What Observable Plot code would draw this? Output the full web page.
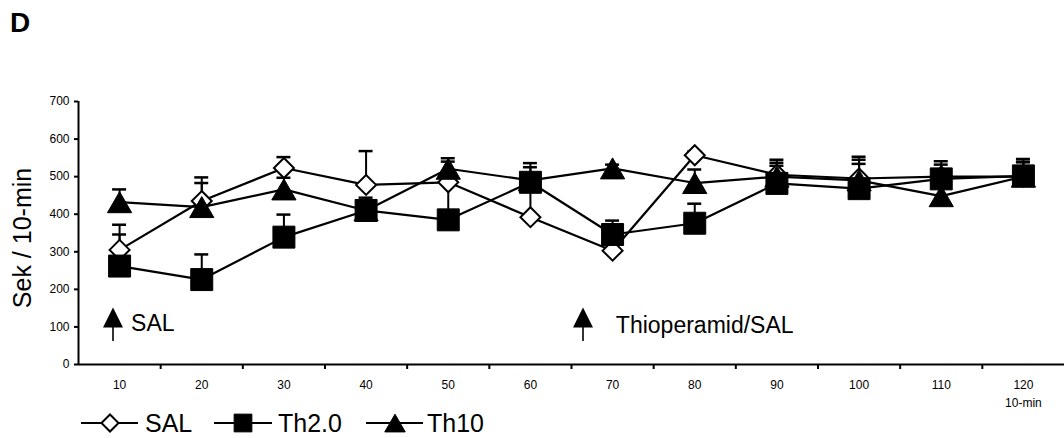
<!DOCTYPE html>
<html>
<head>
<meta charset="utf-8">
<script src="https://cdn.jsdelivr.net/npm/d3@7"></script>
<script src="https://cdn.jsdelivr.net/npm/@observablehq/plot@0.6"></script>
<style>
  body { margin: 0; background: #fff; }
  #wrap { position: relative; width: 1064px; height: 438px; font-family: "Liberation Sans", Arial, sans-serif; }
  #wrap svg { position: absolute; left: 0; top: 0; overflow: visible; }
</style>
</head>
<body>
<div id="wrap"></div>
<script>
// Time bins (10-min blocks)
const minutes = [10, 20, 30, 40, 50, 60, 70, 80, 90, 100, 110, 120];

// Seconds per 10-min block, mean and SEM for each group
const salMean  = [305, 435, 523, 478, 485, 392, 303, 557, 505, 495, 500, 500];
const salSem   = [67, 63, 29, 90, 55, 75, 30, 10, 40, 58, 32, 40];
const th2Mean  = [262, 226, 339, 410, 385, 485, 346, 376, 482, 468, 494, 502];
const th2Sem   = [84, 67, 60, 34, 95, 51, 37, 52, 47, 66, 47, 45];
const th10Mean = [432, 419, 466, 410, 521, 490, 522, 483, 500, 490, 448, 500];
const th10Sem  = [34, 64, 31, 20, 28, 35, 10, 36, 37, 55, 40, 38];

const groupNames = ["SAL", "Th2.0", "Th10"];

// Axis ticks
const yTicks = [0, 100, 200, 300, 400, 500, 600, 700];
const xBoundaries = [15, 25, 35, 45, 55, 65, 75, 85, 95, 105, 115];

// Injection markers
const injectionX = [9.2, 66.4];
const injectionLabelX = [11.4, 70.4];
const injectionLabelY = [108, 104];
const injectionText = ["SAL", "Thioperamid/SAL"];

const series = [
  {name: groupNames[0], mean: salMean, sem: salSem},
  {name: groupNames[1], mean: th2Mean, sem: th2Sem},
  {name: groupNames[2], mean: th10Mean, sem: th10Sem}
];
const rows = series.flatMap(s => s.mean.map((m, i) => ({group: s.name, x: minutes[i], y: m, top: m + s.sem[i]})));
const of = g => rows.filter(d => d.group === g);

// Filled arrowhead, as wide as it is tall
const arrowHead = {
  draw(context, size) {
    const r = Math.sqrt(size / Math.PI);
    context.moveTo(0, -r);
    context.lineTo(r, r);
    context.lineTo(-r, r);
    context.closePath();
  }
};

const injections = injectionX.map((x, i) => ({x, lx: injectionLabelX[i], ly: injectionLabelY[i], text: injectionText[i]}));

const font = '"Liberation Sans", Arial, sans-serif';

const chart = Plot.plot({
  width: 1064,
  height: 410,
  marginLeft: 78,
  marginRight: 0,
  marginTop: 101,
  marginBottom: 46,
  style: {fontFamily: font, color: "black", background: "transparent", overflow: "visible"},
  x: {type: "linear", domain: [5, 125]},
  y: {domain: [0, 700]},
  marks: [
    Plot.axisY({ticks: yTicks, tickSize: 4, tickPadding: 5, fontSize: 12, strokeWidth: 2, label: null}),
    Plot.axisX({ticks: xBoundaries, tickSize: 5, tickFormat: () => "", strokeWidth: 2, label: null}),
    Plot.axisX({ticks: minutes, tickSize: 0, tickPadding: 12, fontSize: 12, lineHeight: 1.5, label: null,
      tickFormat: d => d === 120 ? "120\n10-min" : String(d)}),
    Plot.ruleY([0], {strokeWidth: 2}),
    Plot.ruleX([5], {strokeWidth: 2}),
    Plot.text(["Sek / 10-min"], {text: d => d, frameAnchor: "left", textAnchor: "middle", lineAnchor: "middle",
      dx: -56, dy: 5, rotate: -90, fontSize: 25}),

    // injection arrows
    Plot.ruleX(injections, {x: "x", y1: 61, y2: 100, strokeWidth: 1.6}),
    Plot.dot(injections, {x: "x", y: () => 125, symbol: arrowHead, r: 10, fill: "black", stroke: "none"}),
    Plot.text(injections, {x: "lx", y: "ly", text: "text", textAnchor: "start", fontSize: 23}),

    // group means
    Plot.line(rows, {x: "x", y: "y", z: "group", stroke: "black", strokeWidth: 2.2}),

    // upper SEM bars
    Plot.ruleX(rows, {x: "x", y1: "y", y2: "top", strokeWidth: 2}),
    Plot.ruleY(rows, {y: "top", x1: d => d.x - 0.85, x2: d => d.x + 0.85, strokeWidth: 2.5}),

    // markers
    Plot.dot(of("SAL"), {x: "x", y: "y", symbol: "diamond2", r: 9, fill: "white", stroke: "black", strokeWidth: 2}),
    Plot.dot(of("Th10"), {x: "x", y: "y", symbol: "triangle", r: 9, dy: 3.5, fill: "black", stroke: "black", strokeWidth: 1}),
    Plot.dot(of("Th2.0"), {x: "x", y: "y", symbol: "square", r: 12.4, fill: "black", stroke: "black", strokeWidth: 1})
  ]
});

const wrap = document.getElementById("wrap");
wrap.appendChild(chart);

// Panel letter and legend
const overlay = d3.select(wrap).append("svg")
  .attr("width", 1064).attr("height", 438)
  .style("pointer-events", "none")
  .style("font-family", font);

overlay.append("text").attr("x", 10).attr("y", 32)
  .attr("font-size", 28).attr("font-weight", "bold").text("D");

const legendItems = [
  {name: groupNames[0], x0: 81, x1: 138, mx: 110, tx: 145, symbol: d3.symbolDiamond2, r: 7.7, fill: "white", sw: 2},
  {name: groupNames[1], x0: 214, x1: 272, mx: 243, tx: 278, symbol: d3.symbolSquare, r: 10, fill: "black", sw: 1},
  {name: groupNames[2], x0: 366, x1: 423, mx: 395, tx: 427, symbol: d3.symbolTriangle, r: 7.6, fill: "black", sw: 1}
];
const ly = 423;
const g = overlay.append("g");
legendItems.forEach(it => {
  g.append("line").attr("x1", it.x0).attr("x2", it.x1).attr("y1", ly).attr("y2", ly)
    .attr("stroke", "black").attr("stroke-width", 2);
  const dy = it.symbol === d3.symbolTriangle ? 3 : 0;
  g.append("path")
    .attr("d", d3.symbol(it.symbol, Math.PI * it.r * it.r)())
    .attr("transform", `translate(${it.mx},${ly + dy})`)
    .attr("fill", it.fill).attr("stroke", "black").attr("stroke-width", it.sw);
  g.append("text").attr("x", it.tx).attr("y", ly).attr("dy", "0.35em")
    .attr("font-size", 25).text(it.name);
});
</script>
</body>
</html>
